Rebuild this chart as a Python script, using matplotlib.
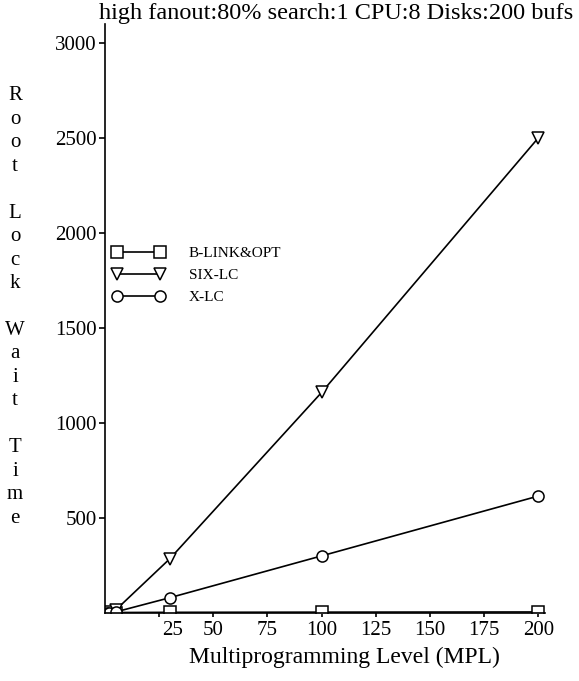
import matplotlib
matplotlib.use("Agg")
import matplotlib.pyplot as plt
import matplotlib.transforms as mtransforms

plt.rcParams['font.family'] = ['Liberation Serif', 'DejaVu Serif']

# data
mpl = [1, 2, 5, 30, 100, 200]
blink_opt = [0.5, 1, 2, 3, 4, 5]
six_lc = [2, 5, 15, 285, 1160, 2500]
x_lc = [1, 2, 5, 80, 300, 615]

x_ticks = [25, 50, 75, 100, 125, 150, 175, 200]
y_ticks = [500, 1000, 1500, 2000, 2500, 3000]
ylabel_words = ["Root", "Lock", "Wait", "Time"]

fig = plt.figure(figsize=(5.79, 6.81), dpi=100)
ax = fig.add_axes([0.181, 0.100, 0.760, 0.865])

style = dict(color='black', lw=1.2, ms=8, mfc='white', mec='black', mew=1.1)
ax.plot(mpl, blink_opt, marker='s', label='B-LINK&OPT', **style)
ax.plot(mpl, six_lc, marker='v', label='SIX-LC', **style)
ax.plot(mpl, x_lc, marker='o', label='X-LC', **style)

ax.set_xlim(0, 203)
ax.set_ylim(0, 3100)
ax.set_xticks(x_ticks)
ax.set_yticks(y_ticks)
ax.tick_params(axis='both', labelsize=15, direction='out', length=4, width=1.2, pad=2)
ax.tick_params(axis='x', length=3, pad=3)

# first x label sits a bit to the right in the original
shift = mtransforms.ScaledTranslation(14 / 100, 0, fig.dpi_scale_trans)
lbl = ax.get_xticklabels()[0]
lbl.set_transform(lbl.get_transform() + shift)

for s in ['top', 'right']:
    ax.spines[s].set_visible(False)
for s in ['left', 'bottom']:
    ax.spines[s].set_linewidth(1.2)

ax.set_xlabel('Multiprogramming Level (MPL)', fontsize=17)
ax.xaxis.set_label_coords(0.545, -0.058)

# stacked vertical y label
lines = []
for w in ylabel_words:
    lines.extend(list(w))
    lines.append('')
fig.text(15 / 579, 1 - 307 / 681, '\n'.join(lines[:-1]), fontsize=15,
         ha='center', va='center', linespacing=1.32)

fig.text(336 / 579, 1 - 14 / 681, 'high fanout:80% search:1 CPU:8 Disks:200 bufs',
         fontsize=17.5, ha='center', va='center')

leg = ax.legend(loc='upper left', bbox_to_anchor=(0.0, 0.635), frameon=False,
                fontsize=11, numpoints=2, handlelength=3.4, handletextpad=1.6,
                labelspacing=0.55, borderpad=0)

fig.savefig('out.png', dpi=100)
